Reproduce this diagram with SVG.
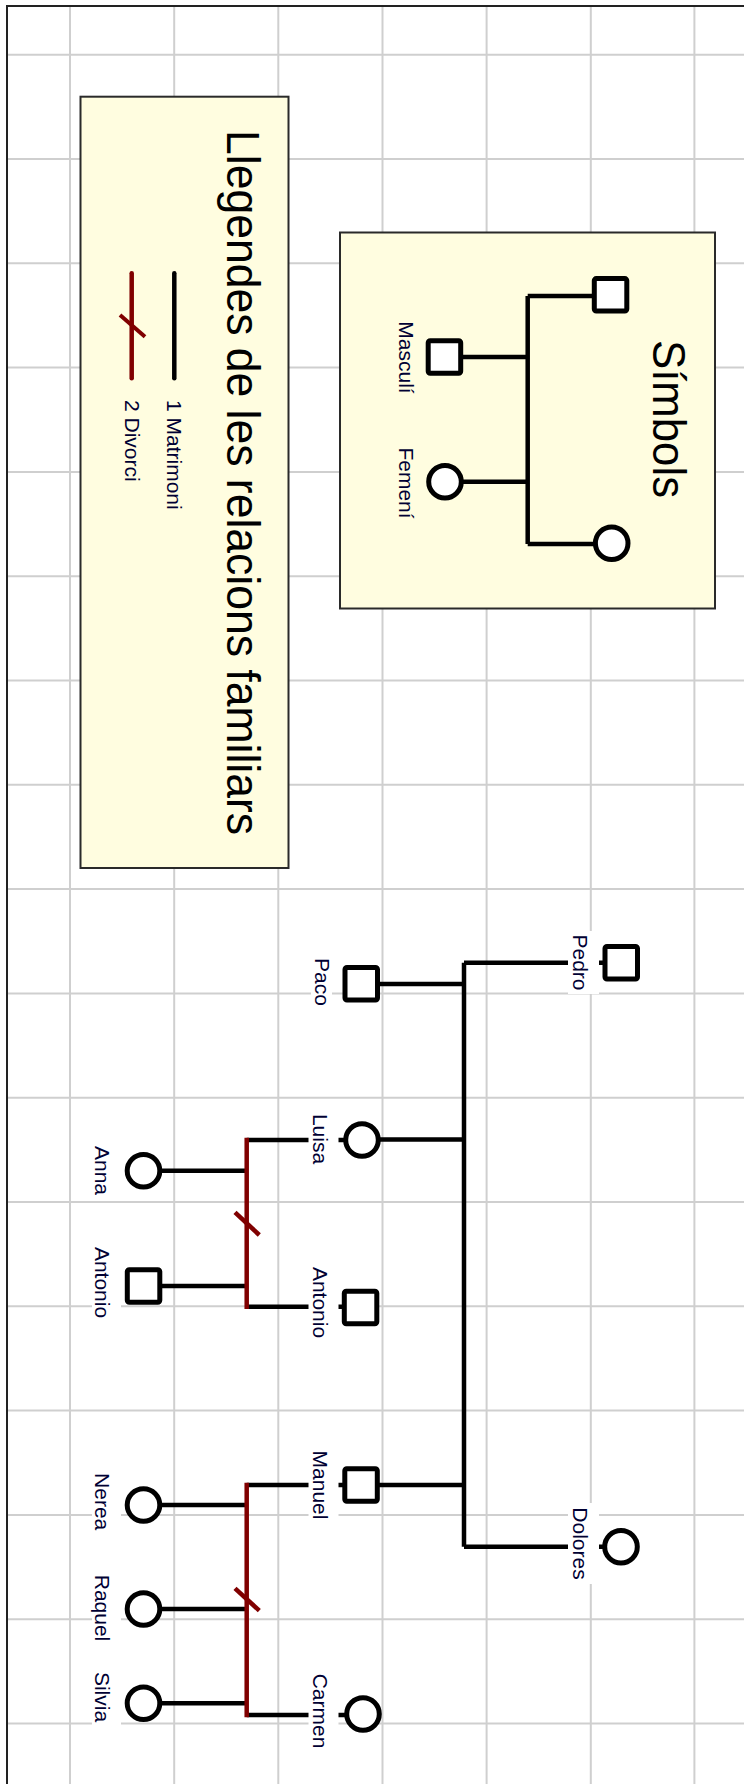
<svg xmlns="http://www.w3.org/2000/svg" width="744" height="1784" viewBox="0 0 744 1784">
<defs>
<style>
.grid line{stroke:#cfcfcf;stroke-width:2}
.box{fill:#fffde0;stroke:#2a2a2a;stroke-width:2}
.ln{stroke:#000;stroke-width:4.5;fill:none;stroke-linecap:butt}
.dv{stroke:#800000;stroke-width:4.5;fill:none}
.sq{fill:#fff;stroke:#000;stroke-width:5}
.ci{fill:#fff;stroke:#000;stroke-width:5}
.bg{fill:#fff}
.lbl{font-family:"Liberation Sans",Arial,sans-serif;font-size:21px;fill:#000033}
.ttl{font-family:"Liberation Sans",Arial,sans-serif;font-size:47px;fill:#000}
</style>
</defs>
<rect x="0" y="0" width="744" height="1784" fill="#fff"/>
<g class="grid">
<line x1="70" y1="7" x2="70" y2="1784"/>
<line x1="174.2" y1="7" x2="174.2" y2="1784"/>
<line x1="278.3" y1="7" x2="278.3" y2="1784"/>
<line x1="382.5" y1="7" x2="382.5" y2="1784"/>
<line x1="486.6" y1="7" x2="486.6" y2="1784"/>
<line x1="590.8" y1="7" x2="590.8" y2="1784"/>
<line x1="694.4" y1="7" x2="694.4" y2="1784"/>
<line x1="8" y1="54.7" x2="744" y2="54.7"/>
<line x1="8" y1="159" x2="744" y2="159"/>
<line x1="8" y1="263.3" x2="744" y2="263.3"/>
<line x1="8" y1="367.6" x2="744" y2="367.6"/>
<line x1="8" y1="471.9" x2="744" y2="471.9"/>
<line x1="8" y1="576.2" x2="744" y2="576.2"/>
<line x1="8" y1="680.5" x2="744" y2="680.5"/>
<line x1="8" y1="784.8" x2="744" y2="784.8"/>
<line x1="8" y1="889.1" x2="744" y2="889.1"/>
<line x1="8" y1="993.4" x2="744" y2="993.4"/>
<line x1="8" y1="1097.7" x2="744" y2="1097.7"/>
<line x1="8" y1="1202" x2="744" y2="1202"/>
<line x1="8" y1="1306.3" x2="744" y2="1306.3"/>
<line x1="8" y1="1410.6" x2="744" y2="1410.6"/>
<line x1="8" y1="1514.9" x2="744" y2="1514.9"/>
<line x1="8" y1="1619.2" x2="744" y2="1619.2"/>
<line x1="8" y1="1723.5" x2="744" y2="1723.5"/>
</g>
<rect x="7" y="6" width="760" height="1800" fill="none" stroke="#222" stroke-width="2"/>

<g id="legend">
<rect class="box" x="80.5" y="96.7" width="208" height="771.3"/>
<text class="ttl" transform="translate(227,482.5) rotate(90)" text-anchor="middle" textLength="705" lengthAdjust="spacingAndGlyphs">Llegendes de les relacions familiars</text>
<line x1="174.3" y1="273.3" x2="174.3" y2="378.3" stroke="#000" stroke-width="4.5" stroke-linecap="round"/>
<line x1="131.7" y1="273.3" x2="131.7" y2="378.3" stroke="#800000" stroke-width="4.5" stroke-linecap="round"/>
<line x1="120" y1="315" x2="145" y2="336.7" stroke="#800000" stroke-width="4"/>
<text class="lbl" transform="translate(167,400) rotate(90)">1 Matrimoni</text>
<text class="lbl" transform="translate(125,400) rotate(90)">2 Divorci</text>
</g>

<g id="symbols">
<rect class="box" x="340" y="232.5" width="375" height="376"/>
<text class="ttl" transform="translate(653,419) rotate(90)" text-anchor="middle" textLength="158" lengthAdjust="spacingAndGlyphs">Símbols</text>
<path class="ln" d="M527.7 296 V544 M527.7 296 H594 M527.7 544 H594 M462 357 H527.7 M462 481.7 H527.7"/>
<rect class="sq" x="594.3" y="278.6" width="32.5" height="32.5" rx="2"/>
<circle class="ci" cx="611.7" cy="543.3" r="16.3"/>
<rect class="sq" x="428.2" y="340.7" width="32.5" height="32.5" rx="2"/>
<circle class="ci" cx="445" cy="481.7" r="16.3"/>
<text class="lbl" transform="translate(399,357.5) rotate(90)" text-anchor="middle">Masculí</text>
<text class="lbl" transform="translate(399,483) rotate(90)" text-anchor="middle">Femení</text>
</g>

<g id="connectors">
<path class="ln" d="M464 962.7 V1546.7 M464 962.7 H605 M380 984 H464 M380 1139.5 H464 M379 1485 H464 M464 1546.7 H605"/>
<path class="ln" d="M246.7 1140 H346 M246.7 1306.7 H345 M160 1170.7 H246.7 M160 1286 H246.7"/>
<path class="ln" d="M246.7 1485 H345 M246.7 1715 H346 M160 1505 H246.7 M160 1609 H246.7 M160 1703.3 H246.7"/>
<line class="dv" x1="246.7" y1="1137.8" x2="246.7" y2="1308.9"/>
<line class="dv" x1="235" y1="1212.3" x2="259.3" y2="1235" stroke-width="4"/>
<line class="dv" x1="246.7" y1="1482.8" x2="246.7" y2="1717.2"/>
<line class="dv" x1="235" y1="1588.3" x2="259.3" y2="1610.7" stroke-width="4"/>
</g>

<g id="node-pedro">
<rect class="sq" x="605" y="946.5" width="32.5" height="32.5" rx="2"/>
<rect class="bg" x="568" y="931" width="31" height="63"/>
<text class="lbl" transform="translate(573,962.5) rotate(90)" text-anchor="middle">Pedro</text>
</g>
<g id="node-paco">
<rect class="sq" x="345" y="967.5" width="32.5" height="32.5" rx="2"/>
<rect class="bg" x="311" y="955" width="21" height="54"/>
<text class="lbl" transform="translate(315,982) rotate(90)" text-anchor="middle">Paco</text>
</g>
<g id="node-luisa">
<circle class="ci" cx="362" cy="1140" r="16.3"/>
<rect class="bg" x="308.5" y="1111" width="30" height="56"/>
<text class="lbl" transform="translate(313,1139) rotate(90)" text-anchor="middle">Luisa</text>
</g>
<g id="node-antonio-1">
<rect class="sq" x="344.3" y="1291.3" width="32.5" height="32.5" rx="2"/>
<rect class="bg" x="308.5" y="1264" width="30" height="77"/>
<text class="lbl" transform="translate(313,1302.5) rotate(90)" text-anchor="middle">Antonio</text>
</g>
<g id="node-anna">
<circle class="ci" cx="143.5" cy="1170.7" r="16.3"/>
<rect class="bg" x="92" y="1144" width="29" height="53"/>
<text class="lbl" transform="translate(95,1170.5) rotate(90)" text-anchor="middle">Anna</text>
</g>
<g id="node-antonio-2">
<rect class="sq" x="127.3" y="1269.8" width="32.5" height="32.5" rx="2"/>
<rect class="bg" x="92" y="1243" width="29" height="79"/>
<text class="lbl" transform="translate(95,1282.5) rotate(90)" text-anchor="middle">Antonio</text>
</g>
<g id="node-manuel">
<rect class="sq" x="344.8" y="1468.8" width="32.5" height="32.5" rx="2"/>
<rect class="bg" x="308.5" y="1447" width="30" height="76"/>
<text class="lbl" transform="translate(313,1485) rotate(90)" text-anchor="middle">Manuel</text>
</g>
<g id="node-dolores">
<circle class="ci" cx="621" cy="1546.7" r="16.3"/>
<rect class="bg" x="568" y="1503" width="31" height="81"/>
<text class="lbl" transform="translate(573,1543.5) rotate(90)" text-anchor="middle">Dolores</text>
</g>
<g id="node-carmen">
<circle class="ci" cx="363" cy="1714" r="16.3"/>
<rect class="bg" x="308.5" y="1671" width="30" height="80"/>
<text class="lbl" transform="translate(313,1711) rotate(90)" text-anchor="middle">Carmen</text>
</g>
<g id="node-nerea">
<circle class="ci" cx="143.5" cy="1505" r="16.3"/>
<rect class="bg" x="92" y="1470" width="29" height="63"/>
<text class="lbl" transform="translate(95,1501.7) rotate(90)" text-anchor="middle">Nerea</text>
</g>
<g id="node-raquel">
<circle class="ci" cx="143.5" cy="1609" r="16.3"/>
<rect class="bg" x="92" y="1573" width="29" height="71"/>
<text class="lbl" transform="translate(95,1608) rotate(90)" text-anchor="middle">Raquel</text>
</g>
<g id="node-silvia">
<circle class="ci" cx="143.5" cy="1703.3" r="16.3"/>
<rect class="bg" x="92" y="1665" width="29" height="64"/>
<text class="lbl" transform="translate(95,1697) rotate(90)" text-anchor="middle">Silvia</text>
</g>
</svg>
